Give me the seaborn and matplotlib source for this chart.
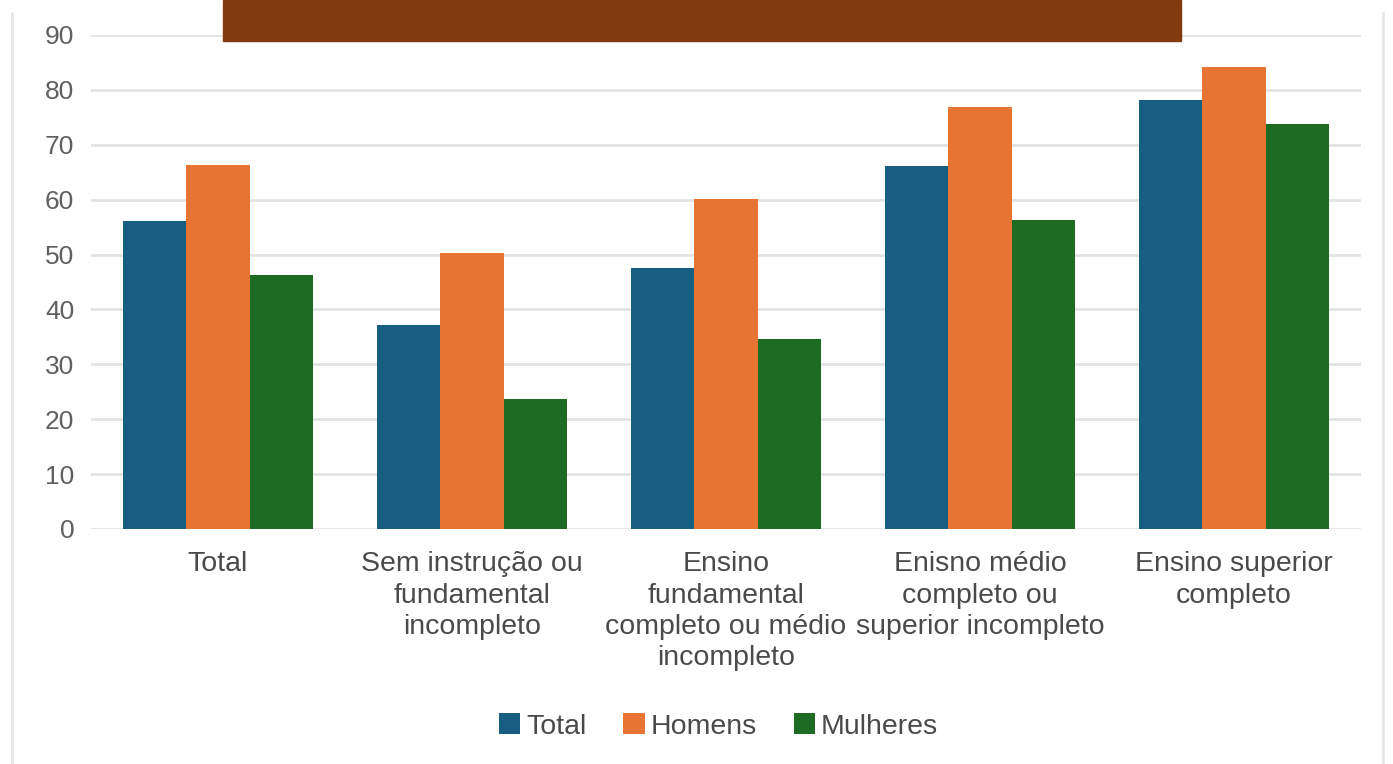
import numpy as np
import pandas as pd
import matplotlib
matplotlib.use("Agg")
import matplotlib.pyplot as plt
from matplotlib.patches import Rectangle
from matplotlib.lines import Line2D
import seaborn as sns

categories = [
    "Total",
    "Sem instrução ou\nfundamental\nincompleto",
    "Ensino\nfundamental\ncompleto ou médio\nincompleto",
    "Enisno médio\ncompleto ou\nsuperior incompleto",
    "Ensino superior\ncompleto",
]
series = ["Total", "Homens", "Mulheres"]
total_vals = [56.1, 37.2, 47.5, 66.1, 78.1]
homens_vals = [66.3, 50.3, 60.1, 76.9, 84.2]
mulheres_vals = [46.3, 23.7, 34.6, 56.3, 73.8]
yticks = [0, 10, 20, 30, 40, 50, 60, 70, 80, 90]
colors = ["#185e82", "#e87434", "#1e6b24"]

rows = []
for name, vals in zip(series, [total_vals, homens_vals, mulheres_vals]):
    for c, v in zip(categories, vals):
        rows.append({"cat": c, "serie": name, "val": v})
df = pd.DataFrame(rows)

sns.set_theme(style="white")
plt.rcParams["font.family"] = ["Liberation Sans", "DejaVu Sans"]

W, H = 1393, 764
fig = plt.figure(figsize=(W / 100, H / 100), dpi=100)
ax = fig.add_axes([91 / W, (H - 529) / H, (1361 - 91) / W, (529 - 35) / H])

sns.barplot(data=df, x="cat", y="val", hue="serie", order=categories,
            hue_order=series, palette=colors, width=0.75, saturation=1,
            linewidth=0, ax=ax, legend=True)

ax.set_ylim(0, 90)
ax.set_xlim(-0.5, 4.5)
ax.set_yticks(yticks)
ax.set_yticklabels([str(t) for t in yticks], color="#606060", fontsize=19)
ax.tick_params(axis="x", labelsize=20.5, colors="#4a4a4a", length=0, pad=16)
ax.tick_params(axis="y", length=0, pad=12)
ax.set_xlabel("")
ax.set_ylabel("")
ax.yaxis.grid(True, color="#e3e3e3", linewidth=2)
ax.set_axisbelow(True)
for s in ax.spines.values():
    s.set_visible(False)
for lab in ax.get_xticklabels():
    lab.set_linespacing(1.27)

handles, labels = ax.get_legend_handles_labels()
ax.legend(handles, labels, loc="center", bbox_to_anchor=(0.494, -0.40),
          ncol=3, frameon=False, fontsize=20.5, handlelength=0.75,
          handleheight=0.75, handletextpad=0.2, columnspacing=1.3,
          labelcolor="#4a4a4a")

fig.patches.append(Rectangle((223 / W, (H - 41) / H), (1181 - 223) / W, 41 / H,
                             transform=fig.transFigure, color="#803c0e", zorder=5))
fig.add_artist(Line2D([12 / W, 12 / W], [0, (H - 13) / H], color="#e6e6e6", linewidth=2))
fig.add_artist(Line2D([1383 / W, 1383 / W], [0, (H - 13) / H], color="#e6e6e6", linewidth=2))

fig.savefig("out.png", dpi=100)
